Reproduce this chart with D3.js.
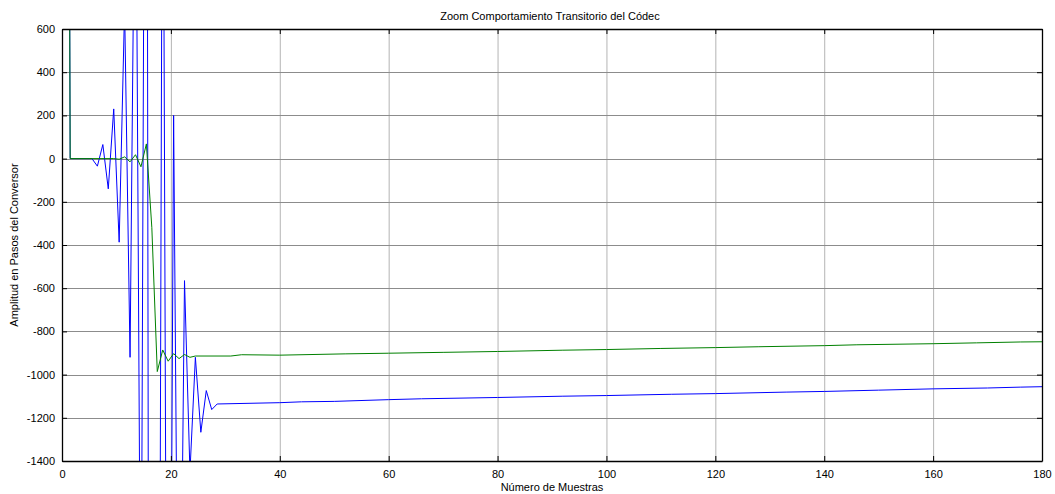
<!DOCTYPE html>
<html>
<head>
<meta charset="utf-8">
<script src="https://cdn.jsdelivr.net/npm/d3@7"></script>
<style>
  body { margin: 0; background: #fff; }
  text { font-family: "Liberation Sans", Arial, sans-serif; fill: #000; }
</style>
</head>
<body>
<div class="container"></div>
<script>
var width = 1055;
var height = 494;
var margin = {top: 29, right: 13, bottom: 33, left: 62};

var xTicks = [0, 20, 40, 60, 80, 100, 120, 140, 160, 180];
var yTicks = [-1400, -1200, -1000, -800, -600, -400, -200, 0, 200, 400, 600];

// blue series: sample positions and values
var blueX = [0.5, 1.5, 5.5, 6.5, 7.5, 8.5, 9.5, 10.5, 11.5, 12.5, 13.5, 14.5, 15.5, 16.5, 17.5,
  18.5, 19.5, 20.5, 21.5, 22.5, 23.5, 24.5, 25.5, 26.5, 27.5, 28.5, 40, 44, 50, 60, 66, 80,
  92, 100, 112, 120, 133, 140, 150, 160, 170, 176, 180];
var blueY = [8000, 0, 0, -35, 65, -140, 230, -387, 700, -920, 1770, -2570, 4000, -12000, -6000,
  2260, -4650, 200, -3000, -565, -1450, -920, -1267, -1074, -1162, -1136, -1130, -1126, -1124, -1116, -1112, -1106,
  -1100, -1097, -1091, -1088, -1081, -1078, -1072, -1066, -1062, -1058, -1056];

// green series
var greenX = [0.5, 1.5, 9.5, 10.5, 11.5, 12.5, 13.5, 14.5, 15.5, 16.5, 17.5, 18.5, 19.5, 20.5,
  21.5, 22.5, 23.5, 24.5, 31, 33, 40, 52, 60, 70, 80, 92, 100, 110, 120, 128, 140, 146, 160, 168, 176, 180];
var greenY = [8000, 0, 0, -3, 8, -15, 18, -38, 68, -320, -986, -886, -938, -903,
  -926, -907, -920, -914, -914, -908, -910, -904, -901, -897, -893, -887, -884, -879, -875, -871, -866, -862, -857, -853, -849, -848];

var svg = d3.select(".container")
  .append("svg")
  .attr("width", width)
  .attr("height", height);

var xScale = d3.scaleLinear()
  .domain([0, 180])
  .range([margin.left, width - margin.right]);
var yScale = d3.scaleLinear()
  .domain([-1400, 600])
  .range([height - margin.bottom, margin.top]);

var x0 = margin.left, x1 = width - margin.right;
var y0 = margin.top, y1 = height - margin.bottom;

//-----------------------------------------
// GRID
svg.append("g").selectAll("line.gx")
  .data(xTicks.slice(1, -1))
  .enter().append("line")
  .attr("x1", (d) => xScale(d) + 0.5).attr("x2", (d) => xScale(d) + 0.5)
  .attr("y1", y0).attr("y2", y1)
  .attr("stroke", "#b4b4b4").attr("stroke-width", 1);
svg.append("g").selectAll("line.gy")
  .data(yTicks.slice(1, -1))
  .enter().append("line")
  .attr("x1", x0).attr("x2", x1)
  .attr("y1", (d) => Math.round(yScale(d)) + 0.5).attr("y2", (d) => Math.round(yScale(d)) + 0.5)
  .attr("stroke", "#8c8c8c").attr("stroke-width", 1);

//-----------------------------------------
// LINES
svg.append("clipPath").attr("id", "clip")
  .append("rect").attr("x", x0).attr("y", y0).attr("width", x1 - x0).attr("height", y1 - y0);

var line = d3.line()
  .x((d) => xScale(d[0]))
  .y((d) => yScale(d[1]));

svg.append("path")
  .datum(d3.zip(blueX, blueY))
  .attr("d", line)
  .attr("clip-path", "url(#clip)")
  .attr("fill", "none").attr("stroke", "#0000ff").attr("stroke-width", 1);

svg.append("path")
  .datum(d3.zip(greenX, greenY))
  .attr("d", line)
  .attr("clip-path", "url(#clip)")
  .attr("fill", "none").attr("stroke", "#008000").attr("stroke-width", 1);

//-----------------------------------------
// AXES (MATLAB style box, inward ticks)
var xAxis = d3.axisBottom(xScale).tickValues(xTicks).tickSizeInner(-5).tickSizeOuter(0).tickPadding(9).tickFormat((d) => String(d));
var yAxis = d3.axisLeft(yScale).tickValues(yTicks).tickSizeInner(-5).tickSizeOuter(0).tickPadding(9).tickFormat((d) => String(d));

var gx = svg.append("g").attr("transform", "translate(0," + y1 + ")").call(xAxis);
var gy = svg.append("g").attr("transform", "translate(" + x0 + ",0)").call(yAxis);
svg.append("g").attr("transform", "translate(0," + y0 + ")")
  .call(d3.axisTop(xScale).tickValues(xTicks).tickSizeInner(-5).tickSizeOuter(0).tickFormat(""));
svg.append("g").attr("transform", "translate(" + x1 + ",0)")
  .call(d3.axisRight(yScale).tickValues(yTicks).tickSizeInner(-5).tickSizeOuter(0).tickFormat(""));

svg.selectAll(".domain").attr("stroke", "#000").attr("stroke-width", 1.3);
svg.selectAll(".tick line").attr("stroke", "#000");
gx.selectAll("text").attr("font-size", 11).attr("dy", "0.71em");
gy.selectAll("text").attr("font-size", 11).attr("dx", "2px");

//-----------------------------------------
// LABELS
svg.append("text")
  .attr("x", 550).attr("y", 20)
  .attr("text-anchor", "middle").attr("font-size", 11)
  .text("Zoom Comportamiento Transitorio del Códec");

svg.append("text")
  .attr("x", 552).attr("y", 491)
  .attr("text-anchor", "middle").attr("font-size", 11)
  .text("Número de Muestras");

svg.append("text")
  .attr("transform", "translate(18," + ((y0 + y1) / 2) + ") rotate(-90)")
  .attr("text-anchor", "middle").attr("font-size", 11)
  .text("Amplitud en Pasos del Conversor");
</script>
</body>
</html>
